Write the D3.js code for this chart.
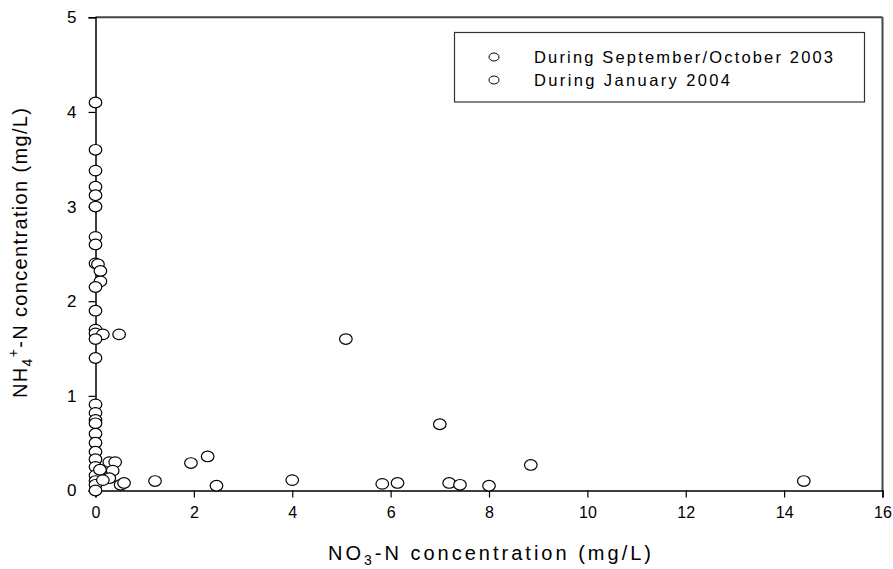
<!DOCTYPE html>
<html><head><meta charset="utf-8">
<script src="https://cdn.jsdelivr.net/npm/d3@7"></script>
<style>html,body{margin:0;padding:0;background:#fff}svg{display:block}</style>
</head><body>
<script>
// ---- data ----
const seriesNames = ["During September/October 2003", "During January 2004"];
const sepOctNO3 = [0,0,0,0,0,0,0,0,0,0.05,0.10,0.10,0,0,0,0,0.15,0.48,0,0];
const sepOctNH4 = [4.10,3.60,3.38,3.21,3.12,3.00,2.68,2.60,2.40,2.39,2.32,2.21,2.15,1.90,1.70,1.66,1.65,1.65,1.60,1.40];
const janNO3 = [0,0,0,0,0,0,0,0,0,0,0,0,0,
  0.28,0.40,0.35,0.28,0.09,0.15,0.51,0.58,1.21,1.94,2.28,2.46,4.00,5.09,5.83,6.14,7.00,7.19,7.41,8.00,8.85,14.40];
const janNH4 = [0.91,0.82,0.745,0.71,0.60,0.505,0.41,0.33,0.25,0.16,0.10,0.06,0.00,
  0.30,0.30,0.21,0.13,0.22,0.11,0.06,0.08,0.10,0.29,0.36,0.05,0.11,1.60,0.07,0.08,0.70,0.08,0.06,0.05,0.27,0.10];
const xTicks = [0,2,4,6,8,10,12,14,16];
const yTicks = [0,1,2,3,4,5];

// ---- layout ----
const W = 893, H = 569;
const L = 95.5, R = 882.5, T = 17.3, B = 490.5;
const FONT = "Arial, 'Liberation Sans', sans-serif";
const svg = d3.select("body").append("svg").attr("width", W).attr("height", H)
  .style("font-family", FONT);

const x = d3.scaleLinear().domain([0,16]).range([L,R]);
const y = d3.scaleLinear().domain([0,5]).range([B,T]);

// frame (top/right)
svg.append("line").attr("x1",L).attr("x2",R).attr("y1",T).attr("y2",T).attr("stroke","#444").attr("stroke-width",2);
svg.append("line").attr("x1",R).attr("x2",R).attr("y1",T).attr("y2",B).attr("stroke","#444").attr("stroke-width",2);

// axes
const xAxis = d3.axisBottom(x).tickValues(xTicks).tickSize(7).tickPadding(9).tickFormat(d3.format("d"));
const gx = svg.append("g").attr("transform",`translate(0,${B})`).call(xAxis);
gx.select(".domain").attr("stroke","#000").attr("stroke-width",1.5);
gx.selectAll(".tick line").attr("stroke","#000").attr("stroke-width",1.2);
gx.selectAll(".tick text").attr("font-size",16).attr("fill","#000").attr("font-family",FONT);

const yAxis = d3.axisLeft(y).tickValues(yTicks).tickSize(7).tickPadding(12).tickFormat(d3.format("d"));
const gy = svg.append("g").attr("transform",`translate(${L},0)`).call(yAxis);
gy.select(".domain").attr("stroke","#000").attr("stroke-width",1.5);
gy.selectAll(".tick line").attr("stroke","#000").attr("stroke-width",1.2);
gy.selectAll(".tick text").attr("font-size",17).attr("fill","#000").attr("font-family",FONT);

// points
const pts = [];
sepOctNO3.forEach((v,i)=>pts.push({x:v,y:sepOctNH4[i],s:0}));
janNO3.forEach((v,i)=>pts.push({x:v,y:janNH4[i],s:1}));
svg.append("g").selectAll("ellipse").data(pts).join("ellipse")
  .attr("cx",d=>x(d.x)).attr("cy",d=>y(d.y)).attr("rx",6.3).attr("ry",5.3)
  .attr("fill","#fff").attr("stroke","#000").attr("stroke-width",1.2);

// legend
const lg = svg.append("g");
lg.append("rect").attr("x",454.5).attr("y",32.5).attr("width",410).attr("height",69.5)
  .attr("fill","#fff").attr("stroke","#333").attr("stroke-width",1.2);
const legW = [299,196];
seriesNames.forEach((n,i)=>{
  const cy = 57 + i*23;
  lg.append("ellipse").attr("cx",494).attr("cy",cy).attr("rx",5).attr("ry",4)
    .attr("fill","#fff").attr("stroke","#000").attr("stroke-width",1);
  lg.append("text").attr("x",534).attr("y",cy+5.5).attr("font-size",16.5)
    .attr("textLength",legW[i]).attr("lengthAdjust","spacing").text(n);
});

// x title
const xt = svg.append("text").attr("x",328).attr("y",560).attr("font-size",20)
  .attr("textLength",323).attr("lengthAdjust","spacing");
xt.append("tspan").text("NO");
xt.append("tspan").attr("font-size",14).attr("dy",5).text("3");
xt.append("tspan").attr("dy",-5).text("-N concentration (mg/L)");

// y title
const yt = svg.append("text").attr("transform","translate(27,398) rotate(-90)").attr("font-size",20)
  .attr("textLength",290).attr("lengthAdjust","spacing");
yt.append("tspan").text("NH");
yt.append("tspan").attr("font-size",14).attr("dy",5).text("4");
yt.append("tspan").attr("font-size",14).attr("dy",-14).text("+");
yt.append("tspan").attr("dy",9).text("-N concentration (mg/L)");
</script>
</body></html>
